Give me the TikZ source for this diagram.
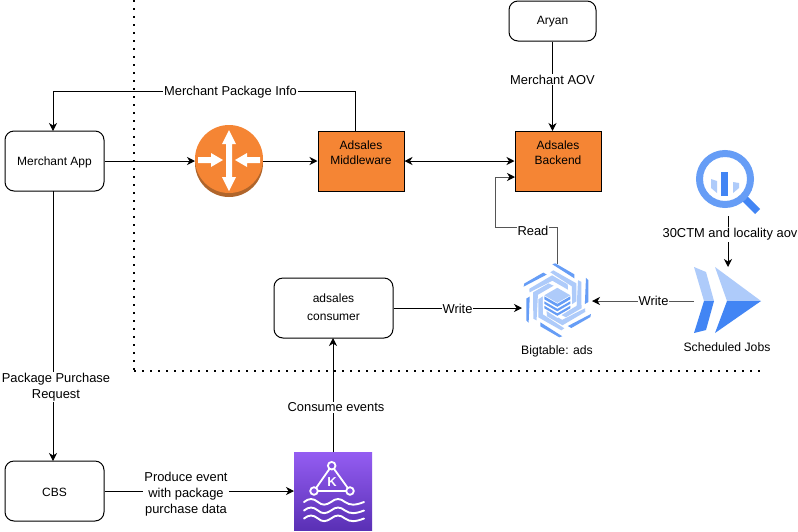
\documentclass[tikz,border=0pt]{standalone}
\usepackage{fontspec}
\setmainfont{Liberation Sans}
\usetikzlibrary{arrows.meta,calc}
\definecolor{orangebox}{HTML}{F58534}
\definecolor{routerdark}{HTML}{B0652B}
\definecolor{gblue}{HTML}{4285F4}
\definecolor{gmid}{HTML}{669DF6}
\definecolor{glight}{HTML}{AECBFA}
\definecolor{kafkatop}{HTML}{945DF2}
\definecolor{kafkabot}{HTML}{5A30B5}
\definecolor{conn}{HTML}{000000}
\definecolor{conngray}{HTML}{555555}
\tikzset{
  x=1pt,y=-1pt,
  flow/.style={draw=conn,line width=1pt,-{Stealth[length=8pt,width=8pt,inset=2.5pt,color=black]}},
  flowtwo/.style={draw=conn,line width=1pt,{Stealth[length=8pt,width=8pt,inset=2.5pt]}-{Stealth[length=8pt,width=8pt,inset=2.5pt]}},
  flowgray/.style={flow,draw=conngray},
  softbox/.style={draw=black,line width=1pt,rounded corners=9pt,fill=white,align=center,font=\fontsize{12}{18}\selectfont,inner sep=0pt},
  orangenode/.style={draw=black,line width=1pt,fill=orangebox,inner sep=0pt,minimum width=86pt,minimum height=60pt},
  boxtext/.style={inner sep=0pt,align=center,font=\fontsize{12}{15}\selectfont},
  ghost/.style={inner sep=0pt,outer sep=0pt},
  lbl/.style={fill=white,inner sep=1pt,align=center,font=\fontsize{12.9}{16}\selectfont},
  captext/.style={inner sep=0pt,align=center,font=\fontsize{12.2}{14}\selectfont},
  dotline/.style={line width=2pt,dash pattern=on 2pt off 6pt},
  whitearrow/.style={fill=white,draw=none}
}
\begin{document}
\begin{tikzpicture}
\useasboundingbox (0,0) rectangle (798,531);
\fill[white] (0,0) rectangle (798,531);
% dotted separators
\coordinate (dv1) at (134,0);
\coordinate (dv2) at (134,370);
\coordinate (dh1) at (134,371);
\coordinate (dh2) at (760,371);
\draw[dotline] (dv1) -- (dv2);
\draw[dotline] (dh1) -- (dh2);
% boxes
\node[softbox,minimum width=99pt,minimum height=60pt] (app) at (54.5,161) {};
\node[boxtext] (apptext) at (54.5,162) {Merchant App};
\node[softbox,minimum width=99pt,minimum height=60pt] (cbs) at (54.5,491) {};
\node[boxtext] (cbstext) at (54.5,492) {CBS};
\node[softbox,minimum width=87pt,minimum height=40pt] (aryan) at (552.5,21) {};
\node[boxtext] (aryantext) at (552.5,21.5) {Aryan};
\node[softbox,minimum width=119pt,minimum height=60pt] (cons) at (333.5,308) {};
\node[boxtext,font=\fontsize{12}{18}\selectfont] (constext) at (333.5,307.5) {adsales\\consumer};
\node[orangenode] (mw) at (361,161) {};
\node[boxtext] (mwtext) at (361,152.5) {Adsales\\Middleware};
\node[orangenode] (be) at (558,161) {};
\node[boxtext] (betext) at (558,152.5) {Adsales\\Backend};
% router icon
\node[ghost,minimum width=68pt,minimum height=72pt] (router) at (229,161) {};
\fill[routerdark] (229,163) circle (34pt);
\fill[orangebox] (229,159) circle (34pt);
\fill[whitearrow] (229,130) -- (236,144) -- (232,144) -- (232,177) -- (236,177) -- (229,191) -- (222,177) -- (226,177) -- (226,144) -- (222,144) -- cycle;
\fill[whitearrow] (198,157) -- (211,157) -- (211,153) -- (223,160) -- (211,167) -- (211,163) -- (198,163) -- cycle;
\fill[whitearrow] (260,157) -- (247,157) -- (247,153) -- (235,160) -- (247,167) -- (247,163) -- (260,163) -- cycle;
% kafka icon
\node[ghost,minimum width=78pt,minimum height=78pt] (kafka) at (333,491) {};
\shade[top color=kafkatop,bottom color=kafkabot] (294,452) rectangle (372,530);
\draw[white,line width=1.8pt] (331.7,465.7) -- (314,491) -- (350,491) -- cycle;
\foreach \p in {(331.7,465.7),(314,491),(350,491)}
  \draw[white,line width=1.8pt,fill=kafkatop!70!kafkabot] \p circle (3.8pt);
\node[ghost,text=white,font=\bfseries\fontsize{13}{13}\selectfont] (kafkak) at (332,482.5) {K};
\foreach \w in {502,510.5,518.5}
  \draw[white,line width=1.9pt,line cap=round] (304,\w) .. controls (309,\w-4) and (313,\w-4) .. (318,\w) .. controls (322,\w+3.5) and (326,\w+3.5) .. (331,\w) .. controls (336,\w-4) and (340,\w-4) .. (345,\w) .. controls (350,\w+3.5) and (355,\w+3.5) .. (364,\w);
% bigtable icon
\node[ghost,minimum width=70pt,minimum height=74pt] (bt) at (557,301) {};
\begin{scope}[shift={(557.3,300.3)}]
\foreach \r in {0,60,...,300}{
  \begin{scope}[rotate=-\r]
  \fill[glight] (-7,-28) -- (-4,-30) -- (19,-17) -- (19,1) -- (14.5,4) -- (14.5,-14) -- cycle;
  \fill[gmid] (-5,-36) -- (-2,-37) -- (17,-26) -- (17,-22) -- cycle;
  \end{scope}
}
\fill[white] (-14.5,-6) -- (0,-14) -- (14.5,-6) -- (14.5,8) -- (0,17.5) -- (-14.5,8) -- cycle;
\fill[glight] (-13,-5) -- (0,-12.5) -- (13,-5) -- (0,2.5) -- cycle;
\fill[gmid] (-13,-4) -- (0,3.5) -- (13,-4) -- (13,-1) -- (0,6.5) -- (-13,-1) -- cycle;
\fill[gmid] (-13,1) -- (0,8.5) -- (13,1) -- (13,3.5) -- (0,11) -- (-13,3.5) -- cycle;
\fill[gmid] (-13,5.5) -- (0,13) -- (13,5.5) -- (13,8) -- (0,15.5) -- (-13,8) -- cycle;
\end{scope}
% scheduled jobs icon
\node[ghost,minimum width=67pt,minimum height=66pt] (jobs) at (727.5,301) {};
\fill[glight] (694,267) -- (706,272) -- (714,301) -- (704,301) -- cycle;
\fill[gblue] (704,301) -- (714,301) -- (706,330) -- (694,333) -- cycle;
\fill[glight] (715,267) -- (761,301) -- (727,301) -- cycle;
\fill[gblue] (727,301) -- (761,301) -- (715,333) -- cycle;
% bigquery icon
\node[ghost,minimum width=58pt,minimum height=66pt] (bq) at (728,183) {};
\fill[gblue] (745,194) -- (760,209) -- (755,214) -- (740,199) -- cycle;
\draw[gmid,line width=7pt,fill=white] (725,179) circle (25.5pt);
\fill[gblue] (721,172) rectangle (728,196);
\fill[glight] (711,179) -- (717,181) -- (717,193) -- (711,188) -- cycle;
\fill[glight] (733,182) -- (739,183) -- (739,188) -- (733,193) -- cycle;
% connectors
\draw[flow] (app.east) -- (router.west);
\draw[flow] (router.east) -- (mw.west);
\draw[flowtwo] (mw.east) -- (be.west);
\coordinate (pk1) at (355,91);
\coordinate (pk2) at (53,91);
\coordinate (pkout) at (355,131);
\coordinate (pkin) at (53,131);
\draw[flow] (pkout) -- (pk1) -- (pk2) -- (pkin);
\coordinate (bein) at (552.5,131);
\draw[flow] (aryan.south) -- (bein);
\coordinate (appout) at (53,191);
\coordinate (cbsin) at (53,461);
\draw[flow] (appout) -- (cbsin);
\draw[flow] (cbs.east) -- (kafka.west);
\coordinate (consin) at (333,338);
\draw[flow] (kafka.north) -- (consin);
\coordinate (btin) at (522,308);
\draw[flow] (cons.east) -- (btin);
\coordinate (rd1) at (557,227);
\coordinate (rd2) at (495,227);
\coordinate (rd3) at (495,177);
\coordinate (rd4) at (515,177);
\draw[flowgray] (bt.north) -- (rd1) -- (rd2) -- (rd3) -- (rd4);
\draw[flowgray] (jobs.west) -- (bt.east);
\coordinate (bqin) at (728,267);
\draw[flow] (bq.south) -- (bqin);
% labels
\node[lbl] (l1) at (230.5,92) {Merchant Package Info};
\node[lbl] (l2) at (552.5,79.5) {Merchant AOV};
\node[lbl] (l3) at (56,387) {Package Purchase\\Request};
\node[lbl] (l4) at (186,494) {Produce event\\with package\\purchase data};
\node[lbl] (l5) at (336,407.5) {Consume events};
\node[lbl] (l6) at (457.5,309) {Write};
\node[lbl] (l7) at (533,231) {Read};
\node[lbl] (l8) at (653.5,300.5) {Write};
\node[lbl] (l9) at (730,234.5) {30CTM and locality aov};
\node[captext] (c1) at (557,351.5) {Bigtable: ads};
\node[captext] (c2) at (727,347.5) {Scheduled Jobs};
\end{tikzpicture}
\end{document}
